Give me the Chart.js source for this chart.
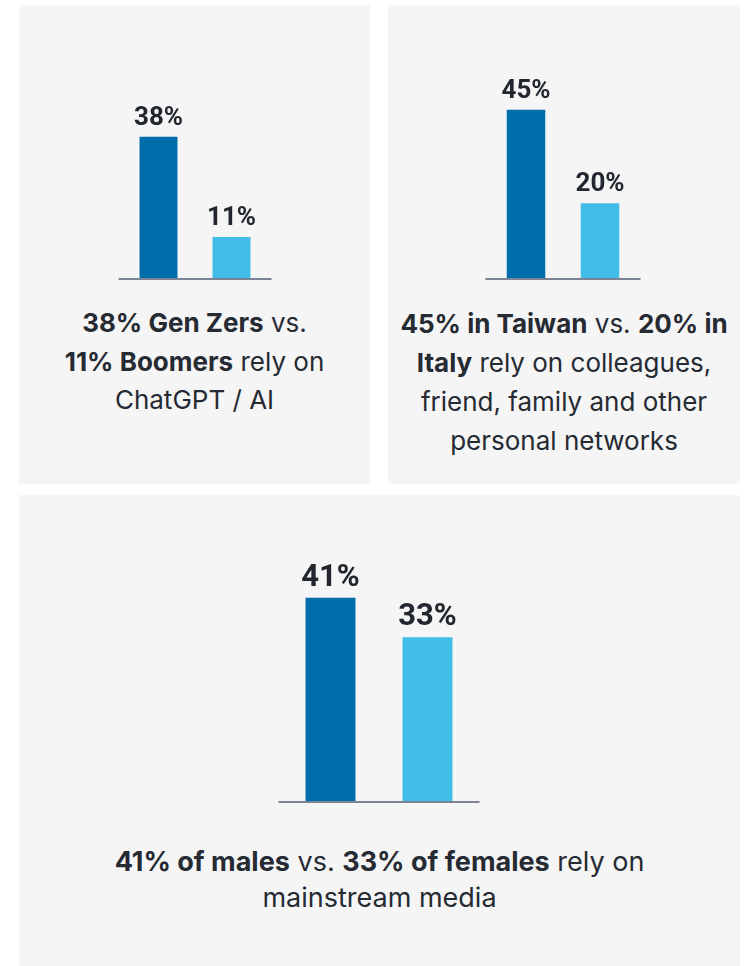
<!DOCTYPE html>
<html>
<head>
<meta charset="utf-8">
<script src="https://cdn.jsdelivr.net/npm/chart.js"></script>
<style>
  html, body { margin: 0; padding: 0; background: #ffffff; }
  body { width: 745px; height: 966px; position: relative; overflow: hidden; }
  .panel { position: absolute; background: #f5f5f5; }
  .chart { position: absolute; }
  .caption {
    position: absolute;
    text-align: center;
    white-space: nowrap;
    font-family: "Inter", "Lato", sans-serif;
    font-size: 26px;
    color: #252a33;
  }
  .caption b { font-weight: 700; }
</style>
</head>
<body>
  <div class="panel" style="left:19px; top:5px; width:351px; height:479px;"></div>
  <div class="panel" style="left:388px; top:5px; width:352px; height:479px;"></div>
  <div class="panel" style="left:19px; top:495px; width:721px; height:471px;"></div>

  <canvas id="chartGen" class="chart"></canvas>
  <canvas id="chartCountry" class="chart"></canvas>
  <canvas id="chartGender" class="chart"></canvas>

  <div class="caption" style="left:19px; width:351px; top:304px; line-height:38.5px;">
    <b>38% Gen Zers</b> vs.<br><b>11% Boomers</b> rely on<br>ChatGPT / AI
  </div>
  <div class="caption" style="left:388px; width:352px; top:304px; line-height:39px;">
    <b>45% in Taiwan</b> vs. <b>20% in</b><br><b>Italy</b> rely on colleagues,<br>friend, family and other<br>personal networks
  </div>
  <div class="caption" style="left:19px; width:721px; top:844px; line-height:36px; font-size:27px;">
    <b>41% of males</b> vs. <b>33% of females</b> rely on<br>mainstream media
  </div>

<script>
var GEN_LABELS = ["Gen Zers", "Boomers"];
var GEN_VALUES = [38, 11];

var COUNTRY_LABELS = ["Taiwan", "Italy"];
var COUNTRY_VALUES = [45, 20];

var GENDER_LABELS = ["Males", "Females"];
var GENDER_VALUES = [41, 33];

var BAR_COLORS = ["#006dab", "#42bde8"];
var Y_MAX = 50;

(function () {
  "use strict";

  var PAD_TOP = 50;
  var PAD_SIDE = 10;
  var PAD_BOTTOM = 6;

  // value labels above bars + the grey baseline under them
  var barDecor = {
    id: "barDecor",
    afterDatasetsDraw: function (chart, args, opts) {
      var ctx = chart.ctx;
      var area = chart.chartArea;
      var zeroY = chart.scales.y.getPixelForValue(0);

      ctx.save();
      ctx.strokeStyle = "#7b8394";
      ctx.lineWidth = 2;
      ctx.beginPath();
      ctx.moveTo(area.left - opts.lineExtend, zeroY + 1);
      ctx.lineTo(area.right + opts.lineExtend, zeroY + 1);
      ctx.stroke();

      var meta = chart.getDatasetMeta(0);
      var values = chart.data.datasets[0].data;
      ctx.fillStyle = "#22262e";
      ctx.font = "700 " + opts.fontSize + "px Roboto, sans-serif";
      ctx.textAlign = "center";
      ctx.textBaseline = "alphabetic";
      meta.data.forEach(function (bar, i) {
        ctx.fillText(values[i] + "%", bar.x, bar.y - 12);
      });
      ctx.restore();
    },
  };

  function makeChart(id, labels, values, cfg) {
    var canvas = document.getElementById(id);
    var plotHeight = Y_MAX * cfg.pxPerUnit;
    canvas.width = cfg.areaWidth + PAD_SIDE * 2;
    canvas.height = PAD_TOP + plotHeight + PAD_BOTTOM;
    canvas.style.left = (cfg.areaLeft - PAD_SIDE) + "px";
    canvas.style.top = (cfg.baseline - plotHeight - PAD_TOP) + "px";

    new Chart(canvas.getContext("2d"), {
      type: "bar",
      data: {
        labels: labels,
        datasets: [
          {
            data: values,
            backgroundColor: BAR_COLORS,
            borderWidth: 0,
            categoryPercentage: 1,
            barPercentage: cfg.barPct,
          },
        ],
      },
      options: {
        responsive: false,
        animation: false,
        layout: {
          padding: { top: PAD_TOP, left: PAD_SIDE, right: PAD_SIDE, bottom: PAD_BOTTOM },
        },
        plugins: {
          legend: { display: false },
          tooltip: { enabled: false },
          barDecor: { fontSize: cfg.fontSize, lineExtend: cfg.lineExtend },
        },
        scales: {
          x: { display: false },
          y: { display: false, min: 0, max: Y_MAX },
        },
      },
      plugins: [barDecor],
    });
  }

  makeChart("chartGen", GEN_LABELS, GEN_VALUES, {
    areaLeft: 121.5, areaWidth: 146, baseline: 278, pxPerUnit: 3.73,
    barPct: 0.52, fontSize: 26, lineExtend: 3.5,
  });
  makeChart("chartCountry", COUNTRY_LABELS, COUNTRY_VALUES, {
    areaLeft: 489, areaWidth: 148, baseline: 278, pxPerUnit: 3.75,
    barPct: 0.52, fontSize: 26, lineExtend: 3.5,
  });
  makeChart("chartGender", GENDER_LABELS, GENDER_VALUES, {
    areaLeft: 281.5, areaWidth: 194, baseline: 801, pxPerUnit: 4.97,
    barPct: 0.515, fontSize: 31, lineExtend: 3.5,
  });
})();
</script>
</body>
</html>
